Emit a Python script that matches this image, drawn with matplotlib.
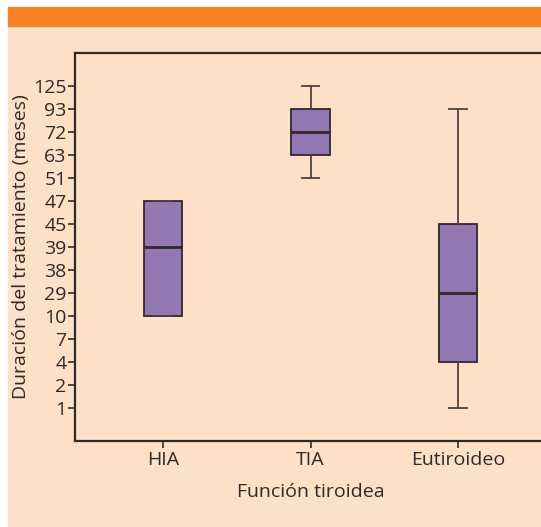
import matplotlib.pyplot as plt
import matplotlib.patches as mpatches

plt.rcParams['font.family'] = ['Open Sans', 'DejaVu Sans']

# ordinal y scale: the chart spaces these values evenly
ytick_values = [1, 2, 4, 7, 10, 29, 38, 39, 45, 47, 51, 63, 72, 93, 125]

groups = ['HIA', 'TIA', 'Eutiroideo']
whisker_low = [10, 51, 1]
q1 = [10, 63, 4]
medians = [39, 72, 29]
q3 = [47, 93, 45]
whisker_high = [47, 125, 93]

bg = '#fce0c8'
orange = '#f58025'
purple = '#9478b3'
dark = '#2e2a2a'


def pos(v):
    return ytick_values.index(v)


fig = plt.figure(figsize=(5.41, 5.27), dpi=100)
fig.patch.set_facecolor('white')
# peach panel and orange band, behind the axes
fig.add_artist(mpatches.Rectangle((8 / 541, 0), 1, 1 - 26 / 527,
                                  transform=fig.transFigure, color=bg, zorder=-10))
fig.add_artist(mpatches.Rectangle((8 / 541, 1 - 26 / 527), 1, 19 / 527,
                                  transform=fig.transFigure, color=orange, zorder=-10))

ax = fig.add_axes([75 / 541, 1 - 441 / 527, 471 / 541, 388 / 527])
ax.set_zorder(1)
ax.set_facecolor(bg)

stats = []
for i, g in enumerate(groups):
    stats.append({
        'label': g,
        'whislo': pos(whisker_low[i]),
        'q1': pos(q1[i]),
        'med': pos(medians[i]),
        'q3': pos(q3[i]),
        'whishi': pos(whisker_high[i]),
        'fliers': [],
    })

ax.bxp(stats, positions=[0, 1, 2], widths=0.26, patch_artist=True,
       showfliers=False,
       boxprops=dict(facecolor=purple, edgecolor=dark, linewidth=1.3),
       medianprops=dict(color=dark, linewidth=2),
       whiskerprops=dict(color='#4a4242', linewidth=1.3),
       capprops=dict(color='#4a4242', linewidth=1.3),
       capwidths=0.12)

ax.set_xlim(-0.597, 2.597)
ax.set_ylim(-1.43, len(ytick_values) - 1 + 1.43)
ax.set_yticks(range(len(ytick_values)))
ax.set_yticklabels([str(v) for v in ytick_values])
ax.set_xticks([0, 1, 2])
ax.set_xticklabels(groups)

for s in ax.spines.values():
    s.set_color(dark)
    s.set_linewidth(1.6)
ax.spines['right'].set_visible(False)

ax.tick_params(axis='both', colors=dark, labelsize=14, length=5, width=1.2,
               direction='out', pad=1)
ax.tick_params(axis='x', pad=2)

ax.set_xlabel('Función tiroidea', fontsize=14, color=dark, labelpad=10)
ax.set_ylabel('Duración del tratamiento (meses)', fontsize=14, color=dark, labelpad=2)

plt.savefig('out.png', dpi=100, facecolor=fig.get_facecolor())
